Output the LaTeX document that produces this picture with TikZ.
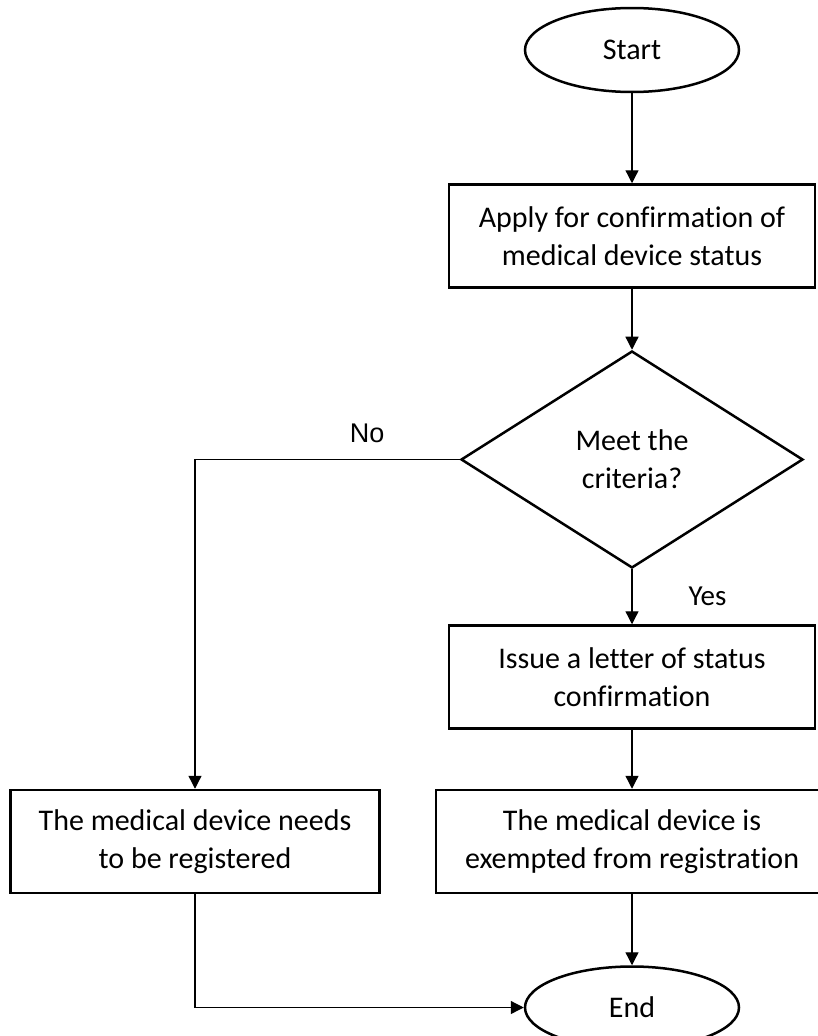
\documentclass[tikz,border=0pt]{standalone}
\usepackage{fontspec}
\setmainfont{Carlito}[Ligatures=NoCommon]
\newfontfamily\labelfont{Liberation Sans}
\usetikzlibrary{positioning,shapes.geometric,arrows.meta}

\tikzset{
  terminal/.style = {draw, ellipse, line width=2.5pt, minimum width=214pt, minimum height=84pt, inner sep=0pt},
  process/.style = {draw, rectangle, line width=2.5pt, minimum width=366pt, minimum height=103pt, inner sep=0pt, align=center},
  decision/.style = {draw, diamond, aspect=1.576, line width=2.5pt, minimum width=342pt, minimum height=217pt, inner sep=0pt, align=center},
  flow/.style = {line width=1.3pt, -{Triangle[length=13pt,width=13pt]}},
  branch/.style = {font=\fontsize{29}{34}\selectfont, inner sep=0pt},
}

\begin{document}
\begin{tikzpicture}[x=1pt, y=1pt, font=\fontsize{30}{38}\selectfont]
  \useasboundingbox (0,0) rectangle (817,-1036);

  \node[terminal] (start) at (632,-50) {Start};
  \node[process, below=90pt of start] (apply) {Apply for confirmation of\\medical device status};
  \node[decision, below=61pt of apply] (crit) {Meet the\\criteria?};
  \node[process, below=55pt of crit] (issue) {Issue a letter of status\\confirmation};
  \node[process, minimum width=392pt, below=59pt of issue] (exempt) {The medical device is\\exempted from registration};
  \node[process, minimum width=369pt, left=54pt of exempt] (reg) {The medical device needs\\to be registered};
  \node[terminal, minimum height=82pt, below=71pt of exempt] (end) {End};

  \draw[flow] (start) -- (apply);
  \draw[flow] (apply) -- (crit);
  \draw[flow] (crit) -- node[branch, right=56pt] {Yes} (issue);
  \draw[flow] (crit.west) -| node[branch, pos=0.175, above=16pt, font=\fontsize{27}{32}\selectfont] {\labelfont No} (reg.north);
  \draw[flow] (issue) -- (exempt);
  \draw[flow] (exempt) -- (end);
  \draw[flow] (reg.south) |- (end.west);
\end{tikzpicture}
\end{document}
